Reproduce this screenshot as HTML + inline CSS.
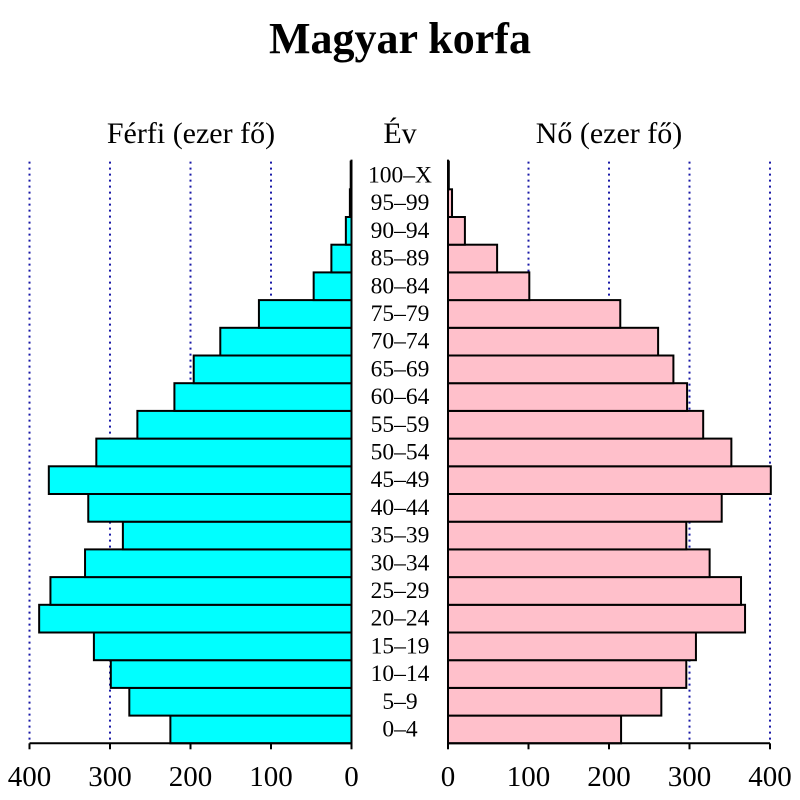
<!DOCTYPE html>
<html><head><meta charset="utf-8"><style>
html,body{margin:0;padding:0;background:#fff;}
svg{display:block;font-family:"Liberation Serif",serif;}
</style></head><body>
<svg id="chart" width="800" height="800" viewBox="0 0 800 800" xmlns="http://www.w3.org/2000/svg">
<text x="400" y="53" text-anchor="middle" font-size="44" font-weight="bold">Magyar korfa</text>
<text x="191" y="143" text-anchor="middle" font-size="30">Férfi (ezer fő)</text>
<text x="400" y="143" text-anchor="middle" font-size="30">Év</text>
<text x="609" y="143" text-anchor="middle" font-size="30">Nő (ezer fő)</text>
<g id="grid"></g><g id="bars"></g><g id="axes"></g>
</svg>
<script>
const ageGroups=["0–4","5–9","10–14","15–19","20–24","25–29","30–34","35–39","40–44","45–49","50–54","55–59","60–64","65–69","70–74","75–79","80–84","85–89","90–94","95–99","100–X"];
const maleValues=[225,276,299,320,388,374,331,284,327,376,317,266,220,196,163,115,47,25,7,2,1];
const femaleValues=[215,265,296,308,369,364,325,296,340,401,352,317,297,280,261,214,101,61,21,5,1];
const tickValues=[0,100,200,300,400];
const NS="http://www.w3.org/2000/svg";
const scale=322/400, maleZero=351.5, femaleZero=448, baseY=743.3, rowH=27.7;
const xm=v=>maleZero-v*scale, xf=v=>femaleZero+v*scale, yRow=i=>baseY-rowH*(i+1);
const topY=yRow(ageGroups.length-1);
function mk(tag,attrs,parent){const e=document.createElementNS(NS,tag);for(const k in attrs)e.setAttribute(k,attrs[k]);parent.appendChild(e);return e;}
const grid=document.getElementById('grid'),bars=document.getElementById('bars'),axes=document.getElementById('axes');
tickValues.slice(1).forEach(t=>{
  let g1=mk('line',{x1:xm(t),x2:xm(t),y1:topY,y2:baseY,stroke:'#1a1aa8','stroke-width':2,'stroke-dasharray':'2,4'},grid);
  
  
  let g2=mk('line',{x1:xf(t),x2:xf(t),y1:topY,y2:baseY,stroke:'#1a1aa8','stroke-width':2,'stroke-dasharray':'2,4'},grid);
  
  
});
ageGroups.forEach((a,i)=>{
  const y=yRow(i);
  let m=mk('rect',{x:xm(maleValues[i]),y:y,width:maleValues[i]*scale,height:rowH,fill:'#00ffff',stroke:'#000','stroke-width':2},bars);
  
  
  let f=mk('rect',{x:femaleZero,y:y,width:femaleValues[i]*scale,height:rowH,fill:'#ffc0cb',stroke:'#000','stroke-width':2},bars);
  
  
  let t=mk('text',{x:400,y:y+rowH/2+7,'text-anchor':'middle','font-size':23.5},axes);
  t.textContent=a;
  
  
});
[[maleZero],[femaleZero]].forEach(([x])=>{
  let l=mk('line',{x1:x,x2:x,y1:topY-2,y2:baseY,stroke:'#000','stroke-width':2},axes);
  
  
});
let ax1=mk('line',{x1:xm(400),x2:maleZero,y1:baseY,y2:baseY,stroke:'#000','stroke-width':2},axes);


let ax2=mk('line',{x1:femaleZero,x2:xf(400),y1:baseY,y2:baseY,stroke:'#000','stroke-width':2},axes);


tickValues.forEach(t=>{
  [xm(t),xf(t)].forEach((x,k)=>{
    let tk=mk('line',{x1:x,x2:x,y1:baseY,y2:baseY+6,stroke:'#000','stroke-width':2},axes);
    
    
    let tl=mk('text',{x:x,y:786,'text-anchor':'middle','font-size':29},axes);
    tl.textContent=t;
    
    
  });
});
</script>
</body></html>
